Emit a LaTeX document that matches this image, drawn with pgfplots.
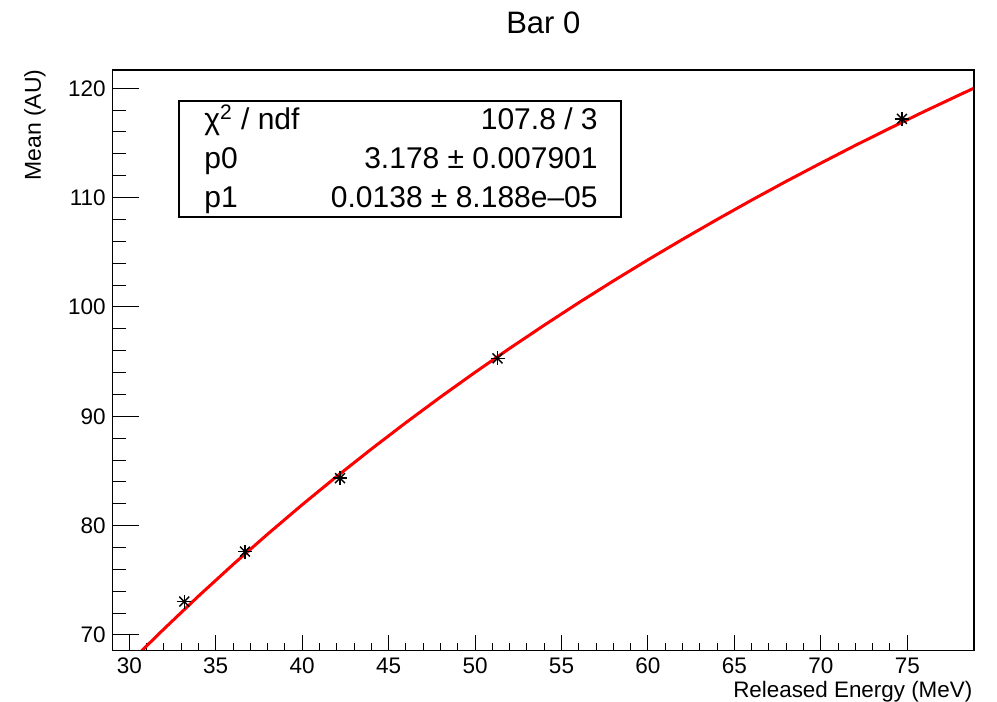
\documentclass[border=0pt]{standalone}
\usepackage{fontspec}
\setmainfont{Liberation Sans}
\usepackage{pgfplots}
\usepackage{pgfplotstable}
\pgfplotsset{compat=1.18}

\definecolor{rootred}{RGB}{255,0,0}

% measured means
\pgfplotstableread{
E M
33.18 73.05
36.69 77.62
42.19 84.34
51.30 95.30
74.69 117.20
}\measured

% fitted curve
\pgfplotstableread{
E M
30.70 68.53
32 70.54
34 73.55
36 76.44
38 79.22
40 81.91
42 84.50
44 87.00
46 89.42
48 91.76
50 94.02
52 96.21
54 98.33
56 100.39
58 102.38
60 104.31
62 106.18
64 108.00
66 109.77
68 111.49
70 113.15
72 114.78
74 116.35
76 117.89
78 119.38
78.86 120.01
}\fitcurve

\begin{document}
\begin{tikzpicture}
\pgfplotsset{
  rootframe/.style={
    scale only axis, width=430.65pt, height=290.35pt,
    xmin=29.04, xmax=78.86, ymin=68.56, ymax=121.67,
    axis line style={line width=0.75pt},
    tick align=inside,
    every tick/.style={black, line width=0.5pt},
    /pgf/number format/assume math mode=true,
    ticklabel style={font=\fontsize{11.25}{13}\selectfont},
    clip mode=individual,
  }
}
% x ticks
\begin{axis}[rootframe,
  xtick={30,35,...,75}, minor x tick num=4,
  ytick=\empty, xtick pos=bottom,
  major tick length=8pt, minor tick length=4pt,
]
\addplot[rootred, line width=1.5pt] table[x=E, y=M] {\fitcurve};
\addplot[only marks, mark=+, mark size=3.5pt, black, line width=0.7pt] table[x=E, y=M] {\measured};
\addplot[only marks, mark=x, mark size=3.5pt, black, line width=0.7pt] table[x=E, y=M] {\measured};
\node[anchor=east, inner sep=0pt, font=\fontsize{11.2}{13}\selectfont] at (rel axis cs:0.9985,-0.0700) {Released Energy (MeV)};
\node[anchor=center, font=\fontsize{15.5}{18}\selectfont] at (rel axis cs:0.5,1.081) {Bar 0};
\end{axis}
% y ticks and stats box
\begin{axis}[rootframe,
  ytick={70,80,...,120}, minor y tick num=4,
  xtick=\empty, ytick pos=left,
  major tick length=13.3pt, minor tick length=6.7pt,
]
\node[rotate=90, anchor=east, font=\fontsize{11.5}{13}\selectfont] at (rel axis cs:-0.0902,1.013) {Mean (AU)};
\draw[fill=white, line width=0.75pt] (rel axis cs:0.077,0.7470) rectangle (rel axis cs:0.590,0.9463);
\begin{scope}[every node/.style={font=\fontsize{15}{18}\selectfont, inner sep=0pt}]
\node[anchor=base west] at (rel axis cs:0.106,0.8967) {χ\textsuperscript{2} / ndf};
\node[anchor=base east] at (rel axis cs:0.5635,0.8967) {107.8 / 3};
\node[anchor=base west] at (rel axis cs:0.106,0.830) {p0};
\node[anchor=base east] at (rel axis cs:0.5635,0.830) {3.178 ± 0.007901};
\node[anchor=base west] at (rel axis cs:0.106,0.7632) {p1};
\node[anchor=base east] at (rel axis cs:0.5635,0.7632) {0.0138 ± 8.188e–05};
\end{scope}
\end{axis}
\useasboundingbox (-56.35pt,-25.65pt) rectangle (442.15pt,325.35pt);
\end{tikzpicture}
\end{document}
